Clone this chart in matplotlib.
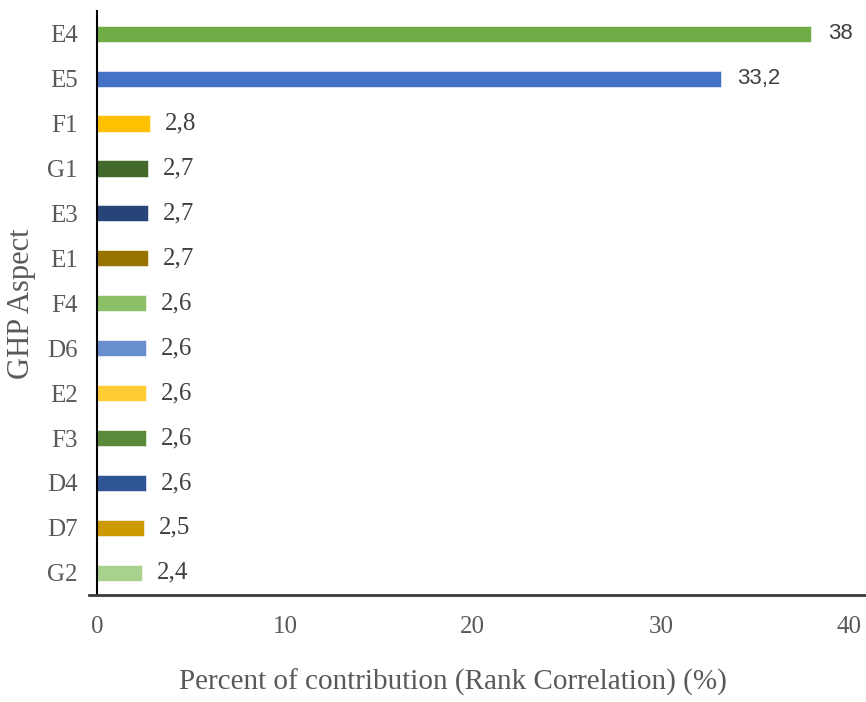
import matplotlib
matplotlib.use("Agg")
import matplotlib.pyplot as plt

categories = ["E4", "E5", "F1", "G1", "E3", "E1", "F4", "D6", "E2", "F3", "D4", "D7", "G2"]
values = [38, 33.2, 2.8, 2.7, 2.7, 2.7, 2.6, 2.6, 2.6, 2.6, 2.6, 2.5, 2.4]
labels = ["38", "33,2", "2,8", "2,7", "2,7", "2,7", "2,6", "2,6", "2,6", "2,6", "2,6", "2,5", "2,4"]
colors = ["#70AD47", "#4472C4", "#FFC000", "#43682B", "#264478", "#997300",
          "#8CC168", "#698ED0", "#FFCD33", "#5A8A3A", "#2F5597", "#CC9A00", "#A9D18E"]
xticks = [0, 10, 20, 30, 40]

plt.rcParams['font.family'] = ['Liberation Serif', 'DejaVu Serif']

fig = plt.figure(figsize=(8.66, 7.02), dpi=100)
ax = fig.add_axes([0.112, 0.152, 0.868, 0.832])

ypos = list(range(len(categories)))[::-1]
ax.barh(ypos, values, height=0.36, color=colors, edgecolor="white", linewidth=0.4)

for y, v, lab in zip(ypos, values, labels):
    if v > 10:
        fam, fs, off = ['Liberation Sans', 'DejaVu Sans'], 16, 12
    else:
        fam, fs, off = ['Liberation Serif'], 18, 11
    ax.annotate(lab, (v, y), xytext=(off, 0), textcoords="offset points",
                va="center", ha="left", fontsize=fs, color="#404040", family=fam)

ax.set_xlim(0, 40)
ax.set_ylim(-0.5, len(categories) - 0.5)
ax.set_yticks(ypos)
ax.set_yticklabels(categories)
ax.set_xticks(xticks)
ax.set_xticklabels([str(t) for t in xticks])
ax.tick_params(axis="both", length=0, labelsize=18, labelcolor="#595959")
ax.tick_params(axis="y", pad=14)
ax.tick_params(axis="x", pad=15)

for s in ["top", "right"]:
    ax.spines[s].set_visible(False)
ax.spines["left"].set_color("black")
ax.spines["left"].set_linewidth(1.5)
ax.spines["bottom"].set_color("#3a3a3a")
ax.spines["bottom"].set_linewidth(2)
ax.spines["bottom"].set_bounds(-0.45, 40.9)

ax.set_xlabel("Percent of contribution (Rank Correlation) (%)", fontsize=21,
              color="#595959", labelpad=22)
ax.xaxis.label.set_x(0.474)
ax.set_ylabel("GHP Aspect", fontsize=22, color="#595959", labelpad=8)

fig.savefig("out.png", dpi=100)
